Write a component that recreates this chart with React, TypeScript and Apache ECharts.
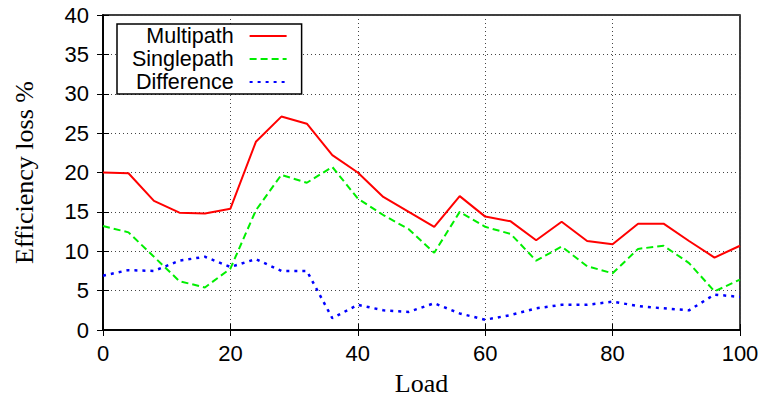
import React, { useEffect, useRef } from "react";
import * as echarts from "echarts";

const loads = [0, 4, 8, 12, 16, 20, 24, 28, 32, 36, 40, 44, 48, 52, 56, 60, 64, 68, 72, 76, 80, 84, 88, 92, 96, 100];
const multipath = [20.0, 19.9, 16.4, 14.9, 14.8, 15.4, 23.9, 27.1, 26.2, 22.2, 20.0, 16.9, 15.0, 13.1, 17.0, 14.4, 13.8, 11.4, 13.75, 11.3, 10.9, 13.5, 13.5, 11.3, 9.2, 10.7];
const singlepath = [13.2, 12.4, 9.3, 6.2, 5.4, 7.8, 15.2, 19.7, 18.7, 20.7, 16.7, 14.6, 12.8, 9.8, 15.0, 13.1, 12.2, 8.8, 10.6, 8.1, 7.2, 10.3, 10.7, 8.5, 4.9, 6.4];
const difference = [6.9, 7.6, 7.5, 8.8, 9.3, 8.0, 9.0, 7.5, 7.5, 1.5, 3.2, 2.5, 2.3, 3.4, 2.1, 1.3, 1.9, 2.75, 3.2, 3.2, 3.6, 3.05, 2.75, 2.5, 4.5, 4.2];
const seriesNames = ["Multipath", "Singlepath", "Difference"];

const pairs = (ys: number[]) => loads.map((x, i) => [x, ys[i]]);

export default function App() {
  const ref = useRef<HTMLDivElement>(null);
  useEffect(() => {
    if (!ref.current) return;
    const chart = echarts.init(ref.current, null, { renderer: "svg" });
    const sans = "'Liberation Sans', Arial, sans-serif";
    const serif = "'Liberation Serif', 'Times New Roman', serif";
    const gridLine = { show: true, lineStyle: { color: "#444", width: 1, type: [1, 3] as any } };
    chart.setOption({
      animation: false,
      backgroundColor: "#fff",
      grid: { left: 103, right: 24, top: 15, bottom: 73, show: true, borderColor: "#000", borderWidth: 1.5, backgroundColor: "transparent" },
      legend: {
        orient: "vertical",
        left: 117,
        top: 24,
        align: "right",
        itemWidth: 37,
        itemHeight: 14,
        itemGap: 1,
        padding: [1, 14, 1, 15],
        borderColor: "#000",
        borderWidth: 1.5,
        backgroundColor: "#fff",
        itemStyle: { opacity: 0 },
        textStyle: { fontFamily: sans, fontSize: 21.5, color: "#000", lineHeight: 21, padding: [0, 11, 0, 0] },
        data: seriesNames,
      },
      xAxis: [
        {
          type: "value",
          min: 0,
          max: 100,
          interval: 20,
          name: "Load",
          nameLocation: "middle",
          nameGap: 40,
          nameTextStyle: { fontFamily: serif, fontSize: 26, color: "#000" },
          axisLine: { show: true, lineStyle: { color: "#000", width: 1.5 } },
          axisTick: { show: true, inside: true, length: 6, lineStyle: { color: "#000", width: 1 } },
          axisLabel: { fontFamily: sans, fontSize: 22, color: "#000", margin: 12 },
          splitLine: gridLine,
        },
        {
          type: "value",
          position: "top",
          min: 0,
          max: 100,
          interval: 20,
          axisLine: { show: true, lineStyle: { color: "#000", width: 1.5 } },
          axisTick: { show: true, inside: true, length: 6, lineStyle: { color: "#000", width: 1 } },
          axisLabel: { show: false },
          splitLine: { show: false },
        },
      ],
      yAxis: [
        {
          type: "value",
          min: 0,
          max: 40,
          interval: 5,
          name: "Efficiency loss %",
          nameLocation: "middle",
          nameGap: 66,
          nameTextStyle: { fontFamily: serif, fontSize: 26, color: "#000" },
          axisLine: { show: true, lineStyle: { color: "#000", width: 1.5 } },
          axisTick: { show: true, inside: true, length: 6, lineStyle: { color: "#000", width: 1 } },
          axisLabel: { fontFamily: sans, fontSize: 22, color: "#000", margin: 14 },
          splitLine: gridLine,
        },
        {
          type: "value",
          position: "right",
          min: 0,
          max: 40,
          interval: 5,
          axisLine: { show: true, lineStyle: { color: "#000", width: 1.5 } },
          axisTick: { show: true, inside: true, length: 6, lineStyle: { color: "#000", width: 1 } },
          axisLabel: { show: false },
          splitLine: { show: false },
        },
      ],
      series: [
        {
          name: seriesNames[0],
          type: "line",
          data: pairs(multipath),
          symbol: "none",
          itemStyle: { color: "#ff0000" },
          lineStyle: { color: "#ff0000", width: 2 },
        },
        {
          name: seriesNames[1],
          type: "line",
          data: pairs(singlepath),
          symbol: "none",
          itemStyle: { color: "#00ee00" },
          lineStyle: { color: "#00ee00", width: 2, type: [7, 4] },
        },
        {
          name: seriesNames[2],
          type: "line",
          data: pairs(difference),
          symbol: "none",
          itemStyle: { color: "#0000ff" },
          lineStyle: { color: "#0000ff", width: 2.5, type: [3, 5] },
        },
      ],
    });
    return () => chart.dispose();
  }, []);
  return <div ref={ref} style={{ position: "fixed", left: 0, top: 0, width: 764, height: 403 }} />;
}
